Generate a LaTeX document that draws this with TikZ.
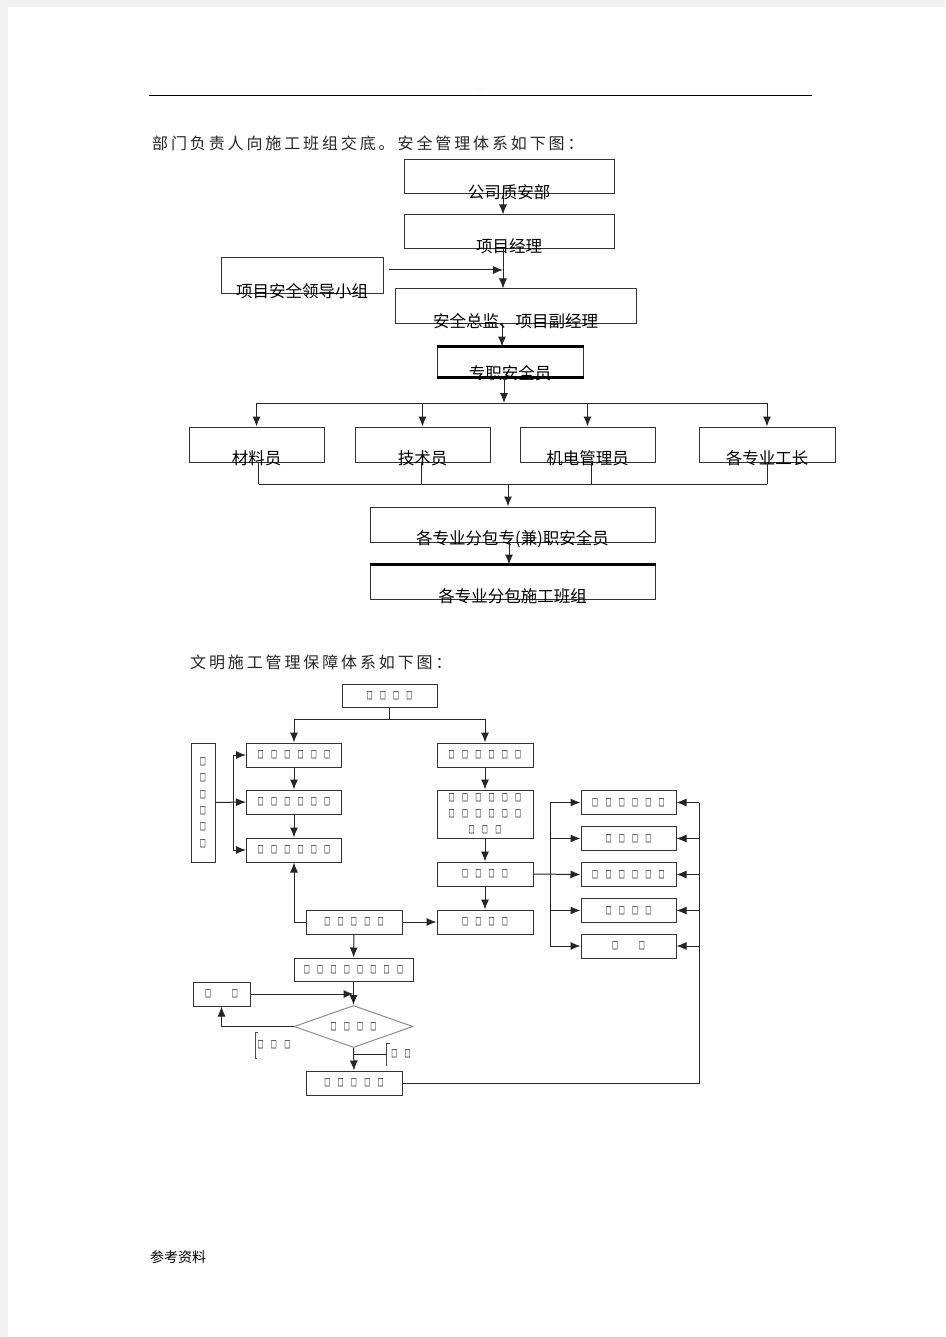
\documentclass[tikz,border=0pt]{standalone}
\usepackage{graphicx}
\usepackage{fontspec}
\setmainfont{Noto Sans CJK SC}
\newfontfamily\symfont{DejaVu Sans}
\newfontfamily\headfont[LetterSpace=18]{Noto Sans CJK SC}
\usetikzlibrary{arrows.meta,shapes.geometric}

\newcommand{\bx}{\makebox[13.3pt]{\scalebox{0.8}[1.35]{□}}}
\newcommand{\gap}{\hspace{13.3pt}}

\tikzset{
  box/.style={draw=black!80, line width=1pt, inner sep=0pt},
  lbl/.style={font=\fontsize{16.5}{16.5}\selectfont, inner sep=0pt},
  head/.style={font=\headfont\fontsize{16}{16}\selectfont, text=black!85, inner sep=0pt},
  sq/.style={draw=black!80, line width=1pt, inner sep=0pt, align=center,
    font=\symfont\fontsize{8}{16}\selectfont},
  tag/.style={inner sep=0pt, font=\symfont\fontsize{8}{8}\selectfont},
  wire/.style={line width=1pt, draw=black!85},
  arr/.style={wire, -{Latex[length=10pt,width=8pt]}}
}

\begin{document}
\begin{tikzpicture}[x=1pt,y=-1pt]
\useasboundingbox (0,0) rectangle (945,1337);
\fill[black!5] (0,0) rectangle (945,1337);
\fill[white] (8,7) rectangle (945,1337);

% page head
\draw[line width=0.8pt] (149,95) -- (812,95);
\node[inner sep=0pt, font=\fontsize{5}{5}\selectfont, text=violet!60] (dots) at (480,90) {. .};
\node[head, anchor=west] (h1) at (152,143) {部门负责人向施工班组交底。安全管理体系如下图：};

% safety management system
\node[box, minimum width=210, minimum height=34] (gs) at (509,177) {};
\node[box, minimum width=210, minimum height=34] (pm) at (509,232) {};
\node[box, minimum width=162, minimum height=36] (ld) at (302,276) {};
\node[box, minimum width=241, minimum height=34] (zj) at (515.5,306) {};
\node[box, minimum width=146, minimum height=30] (zz) at (510,362) {};
\node[box, minimum width=135, minimum height=35] (cl) at (256.5,444.5) {};
\node[box, minimum width=135, minimum height=35] (js) at (422.5,444.5) {};
\node[box, minimum width=135, minimum height=35] (jd) at (587.5,444.5) {};
\node[box, minimum width=136, minimum height=35] (gz) at (767,444.5) {};
\node[box, minimum width=285, minimum height=35] (fb) at (512.5,524.5) {};
\node[box, minimum width=285, minimum height=34] (bz) at (512.5,582) {};
\draw[line width=2.2pt] (zz.north west) -- (zz.north east);
\draw[line width=2.2pt] (zz.south west) -- (zz.south east);
\draw[line width=2.2pt] (bz.north west) -- (bz.north east);

\node[lbl] (gs-t) at ([yshift=2pt]gs.south) {公司质安部};
\node[lbl] (pm-t) at ([yshift=3pt]pm.south) {项目经理};
\node[lbl] (ld-t) at ([yshift=3pt]ld.south) {项目安全领导小组};
\node[lbl] (zj-t) at ([yshift=2pt]zj.south) {安全总监、项目副经理};
\node[lbl] (zz-t) at ([yshift=4pt]zz.south) {专职安全员};
\node[lbl] (cl-t) at ([yshift=4pt]cl.south) {材料员};
\node[lbl] (js-t) at ([yshift=4pt]js.south) {技术员};
\node[lbl] (jd-t) at ([yshift=4pt]jd.south) {机电管理员};
\node[lbl] (gz-t) at ([yshift=4pt]gz.south) {各专业工长};
\node[lbl] (fb-t) at ([yshift=3pt]fb.south) {各专业分包专(兼)职安全员};
\node[lbl] (bz-t) at ([yshift=3pt]bz.south) {各专业分包施工班组};

\coordinate (spine) at ([xshift=-6pt]pm.south);
\coordinate (ldarr) at ([shift={(5,-6)}]ld.east);
\coordinate (bus1) at (504,403);
\coordinate (bus2) at (508,484);
\draw[arr] ([xshift=-6pt]gs.south) -- ([xshift=-6pt]pm.north);
\draw[arr] (spine) -- (spine |- zj.north);
\draw[arr] (ldarr) -- (ldarr -| spine);
\draw[arr] ([xshift=-8pt]zz.north |- zj.south) -- ([xshift=-8pt]zz.north);
\draw[arr] (zz.south -| bus1) -- (bus1);
\draw[wire] (cl.north |- bus1) -- (gz.north |- bus1);
\draw[arr] (cl.north |- bus1) -- (cl.north);
\draw[arr] (js.north |- bus1) -- (js.north);
\draw[arr] (jd.north |- bus1) -- (jd.north);
\draw[arr] (gz.north |- bus1) -- (gz.north);
\draw[wire] ([xshift=2pt]cl.south) -- ([xshift=2pt]cl.south |- bus2);
\draw[wire] ([xshift=-1pt]js.south) -- ([xshift=-1pt]js.south |- bus2);
\draw[wire] ([xshift=4pt]jd.south) -- ([xshift=4pt]jd.south |- bus2);
\draw[wire] (gz.south) -- (gz.south |- bus2);
\draw[wire] ([xshift=2pt]cl.south |- bus2) -- (gz.south |- bus2);
\draw[arr] (bus2) -- (bus2 |- fb.north);
\draw[arr] ([xshift=-3.5pt]fb.south) -- ([xshift=-3.5pt]bz.north);

% civilized construction system
\node[head, anchor=west] (h2) at (190,662) {文明施工管理保障体系如下图：};

\node[sq, minimum width=95, minimum height=23] (top) at (389.5,695.5) {\bx\bx\bx\bx};
\node[sq, minimum width=95, minimum height=24] (l1) at (294,755) {\bx\bx\bx\bx\bx\bx};
\node[sq, minimum width=95, minimum height=24] (l2) at (294,802) {\bx\bx\bx\bx\bx\bx};
\node[sq, minimum width=95, minimum height=24] (l3) at (294,850) {\bx\bx\bx\bx\bx\bx};
\node[sq, minimum width=24, minimum height=119, font=\symfont\fontsize{8}{16.4}\selectfont] (side) at (203,802.5) {\bx\\\bx\\\bx\\\bx\\\bx\\\bx};
\node[sq, minimum width=96, minimum height=24] (r1) at (485,755) {\bx\bx\bx\bx\bx\bx};
\node[sq, minimum width=96, minimum height=48] (r2) at (485,814) {\bx\bx\bx\bx\bx\bx\\\bx\bx\bx\bx\bx\bx\\\bx\bx\bx};
\node[sq, minimum width=96, minimum height=24] (r3) at (485,874) {\bx\bx\bx\bx};
\node[sq, minimum width=96, minimum height=24] (r4) at (485,922) {\bx\bx\bx\bx};
\node[sq, minimum width=95, minimum height=24] (s1) at (628.5,802.5) {\bx\bx\bx\bx\bx\bx};
\node[sq, minimum width=95, minimum height=24] (s2) at (628.5,838.5) {\bx\bx\bx\bx};
\node[sq, minimum width=95, minimum height=24] (s3) at (628.5,874.5) {\bx\bx\bx\bx\bx\bx};
\node[sq, minimum width=95, minimum height=24] (s4) at (628.5,910.5) {\bx\bx\bx\bx};
\node[sq, minimum width=95, minimum height=24] (s5) at (628.5,946) {\bx\gap\bx};
\node[sq, minimum width=96, minimum height=24] (mid) at (354,922) {\bx\bx\bx\bx\bx};
\node[sq, minimum width=119, minimum height=23] (chk) at (353.5,969.5) {\bx\bx\bx\bx\bx\bx\bx\bx};
\node[sq, minimum width=57, minimum height=24] (fix) at (221.5,994) {\bx\gap\bx};
\node[sq, draw=black!45, diamond, shape aspect=2.8, minimum width=119, minimum height=42] (dec) at (353.5,1026.5) {\bx\bx\bx\bx};
\node[sq, minimum width=96, minimum height=24] (fin) at (354,1083) {\bx\bx\bx\bx\bx};
\node[tag] (no) at (274,1045) {\bx\bx\bx};
\node[tag] (ok) at (401,1054) {\bx\bx};

\coordinate (j1) at (389.5,719);
\coordinate (j2) at (233,802.5);
\coordinate (j3) at (550,874.5);
\coordinate (j4) at (699,802.5);
\draw[wire] (top.south) -- (j1);
\draw[arr] (j1) -| (l1.north);
\draw[arr] (j1) -| (r1.north);
\draw[arr] (l1) -- (l2);
\draw[arr] (l2) -- (l3);
\draw[arr] (side.east) -- (l2.west);
\draw[arr] (j2) |- (l1.west);
\draw[arr] (j2) |- (l3.west);
\draw[arr] (r1) -- (r2);
\draw[arr] (r2) -- (r3);
\draw[arr] (r3) -- (r4);
\draw[arr] (r3.east) -- (s3.west);
\draw[arr] (j3) |- (s1.west);
\draw[arr] (j3) |- (s2.west);
\draw[arr] (j3) |- (s4.west);
\draw[arr] (j3) |- (s5.west);
\draw[wire] (fin.east) -| (j4);
\draw[arr] (s1.east -| j4) -- (s1.east);
\draw[arr] (s2.east -| j4) -- (s2.east);
\draw[arr] (s3.east -| j4) -- (s3.east);
\draw[arr] (s4.east -| j4) -- (s4.east);
\draw[arr] (s5.east -| j4) -- (s5.east);
\draw[arr] (mid.west) -| (l3.south);
\draw[arr] (mid.east) -- (r4.west);
\draw[arr] (mid) -- (chk);
\draw[arr] (chk) -- (dec.north);
\draw[arr] (fix.east) -- (fix.east -| dec.north);
\draw[arr] (dec.west) -| (fix.south);
\draw[arr] (dec.south) -- (fin.north);
\draw[line width=0.6pt, black!70] ([shift={(4,-13)}]no.west) -- ([shift={(1,-13)}]no.west) -- ([shift={(1,13)}]no.west) -- ([shift={(3,13)}]no.west);
\draw[line width=0.6pt, black!70] ([shift={(2,-11)}]ok.west) -- ([shift={(-1,-11)}]ok.west) -- ([shift={(-1,12)}]ok.west);
\draw[wire] (dec.south |- ok.west) -- ([xshift=-1pt]ok.west);

% page foot
\node[inner sep=0pt, anchor=west, font=\fontsize{14}{14}\selectfont] (foot) at (150,1257) {参考资料};
\end{tikzpicture}
\end{document}
